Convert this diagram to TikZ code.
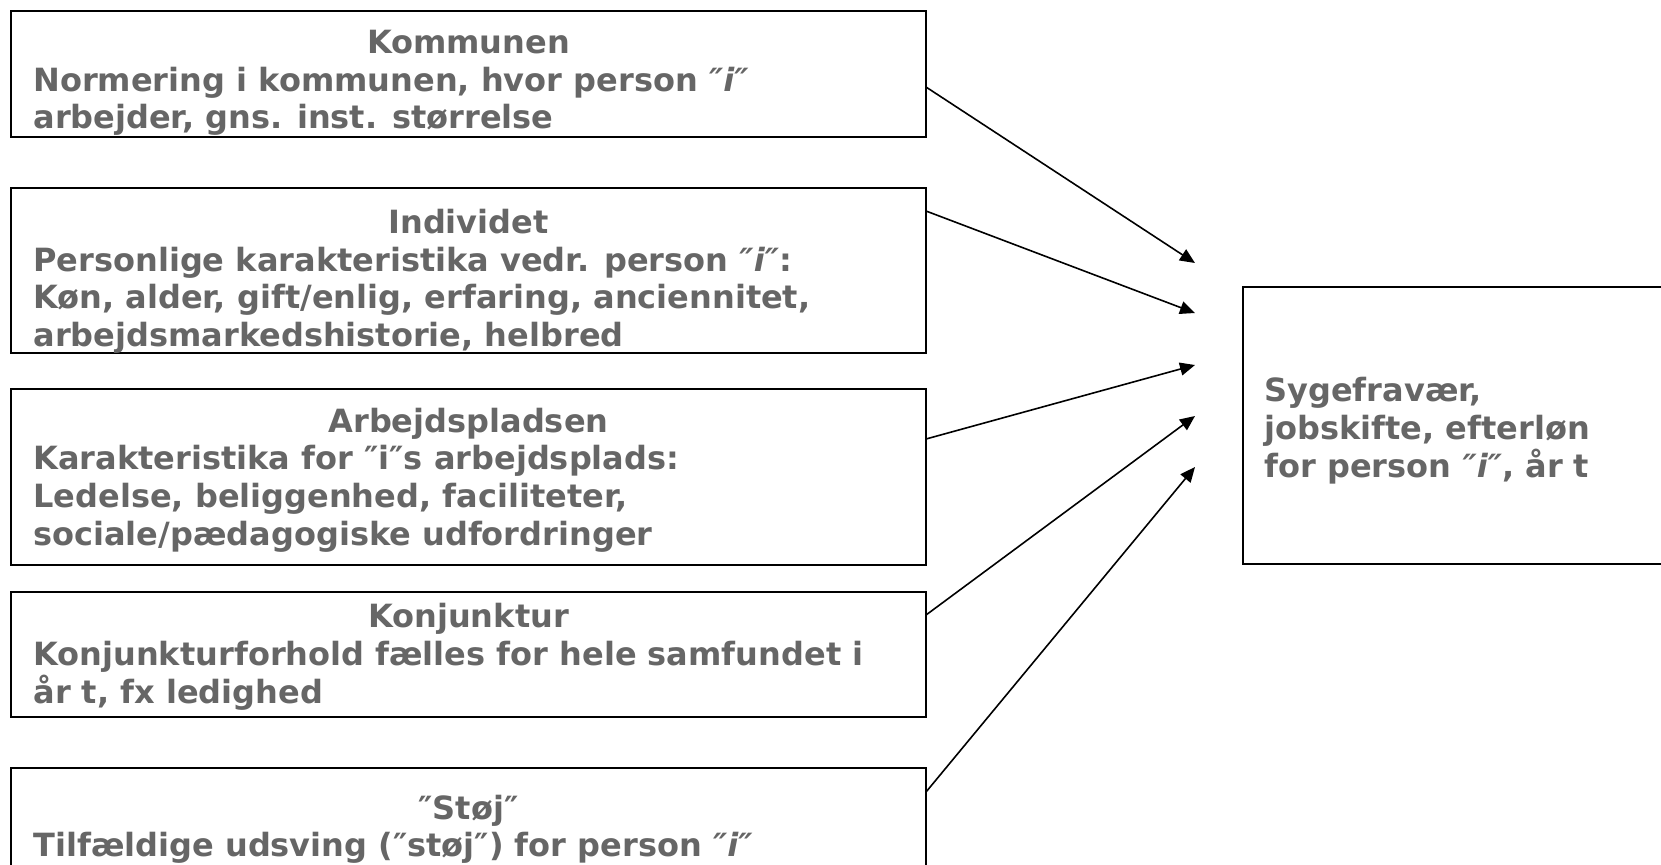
\documentclass[tikz,border=0pt]{standalone}
\usepackage{fontspec}
\setmainfont{DejaVu Sans}
\usetikzlibrary{arrows.meta}
\definecolor{txtgray}{RGB}{102,102,102}
\tikzset{
  box/.style={draw=black, line width=1pt, inner sep=0pt, outer sep=0pt,
    anchor=north west, minimum width=457.5pt},
  ln/.style={anchor=base west, inner sep=0pt, text=txtgray,
    font=\bfseries\fontsize{16}{18}\selectfont},
  hd/.style={ln, anchor=base},
  arr/.style={draw=black, line width=0.8pt,
    -{Triangle[length=7.5pt, width=6.5pt]}}
}
% italic person marker
\newcommand{\personi}{\textit{″i″}}
\begin{document}
\begin{tikzpicture}[x=0.5pt, y=-0.5pt]
  \useasboundingbox (0,0) rectangle (1661,864);
  \clip (0,0) rectangle (1661,864);

  % source boxes on the left
  \node[box, minimum height=63pt]   (kom) at (11,11)  {};
  \node[box, minimum height=82.5pt] (ind) at (11,188) {};
  \node[box, minimum height=88pt]   (arb) at (11,389) {};
  \node[box, minimum height=62.5pt] (kon) at (11,592) {};
  \node[box, minimum height=75pt]   (sto) at (11,768) {};
  % outcome box on the right
  \node[box, minimum width=250pt, minimum height=138.5pt] (res) at (1243,287) {};

  % texts of the Kommunen box
  \node[hd] (kom0) at (468.5,53.5)  {Kommunen};
  \node[ln] (kom1) at (33,91)   {Normering i kommunen, hvor person \personi};
  \node[ln] (kom2) at (33,128.5) {arbejder, gns. inst. størrelse};

  % texts of the Individet box
  \node[hd] (ind0) at (468.5,233) {Individet};
  \node[ln] (ind1) at (33,271) {Personlige karakteristika vedr. person \personi:};
  \node[ln] (ind2) at (33,308.5) {Køn, alder, gift/enlig, erfaring, anciennitet,};
  \node[ln] (ind3) at (33,346) {arbejdsmarkedshistorie, helbred};

  % texts of the Arbejdspladsen box
  \node[hd] (arb0) at (468.5,432) {Arbejdspladsen};
  \node[ln] (arb1) at (33,469.5) {Karakteristika for ″i″s arbejdsplads:};
  \node[ln] (arb2) at (33,507) {Ledelse, beliggenhed, faciliteter,};
  \node[ln] (arb3) at (33,545) {sociale/pædagogiske udfordringer};

  % texts of the Konjunktur box
  \node[hd] (kon0) at (468.5,627) {Konjunktur};
  \node[ln] (kon1) at (33,665) {Konjunkturforhold fælles for hele samfundet i};
  \node[ln] (kon2) at (33,703) {år t, fx ledighed};

  % texts of the noise box
  \node[hd] (sto0) at (468.5,819) {″Støj″};
  \node[ln] (sto1) at (33,856) {Tilfældige udsving (″støj″) for person \personi};

  % texts of the outcome box
  \node[ln] (res1) at (1264,401) {Sygefravær,};
  \node[ln] (res2) at (1264,439) {jobskifte, efterløn};
  \node[ln] (res3) at (1264,477) {for person \personi, år t};

  % arrow heads stop short of the outcome box
  \coordinate (p1) at (1195,263);
  \coordinate (p2) at (1195,313);
  \coordinate (p3) at (1195,365);
  \coordinate (p4) at (1195,416);
  \coordinate (p5) at (1195,467);

  \draw[arr] ([yshift=-38pt]kom.north east)   -- (p1);
  \draw[arr] ([yshift=-11.5pt]ind.north east) -- (p2);
  \draw[arr] ([yshift=-25pt]arb.north east)   -- (p3);
  \draw[arr] ([yshift=-11.5pt]kon.north east) -- (p4);
  \draw[arr] ([yshift=-12pt]sto.north east)   -- (p5);
\end{tikzpicture}
\end{document}
